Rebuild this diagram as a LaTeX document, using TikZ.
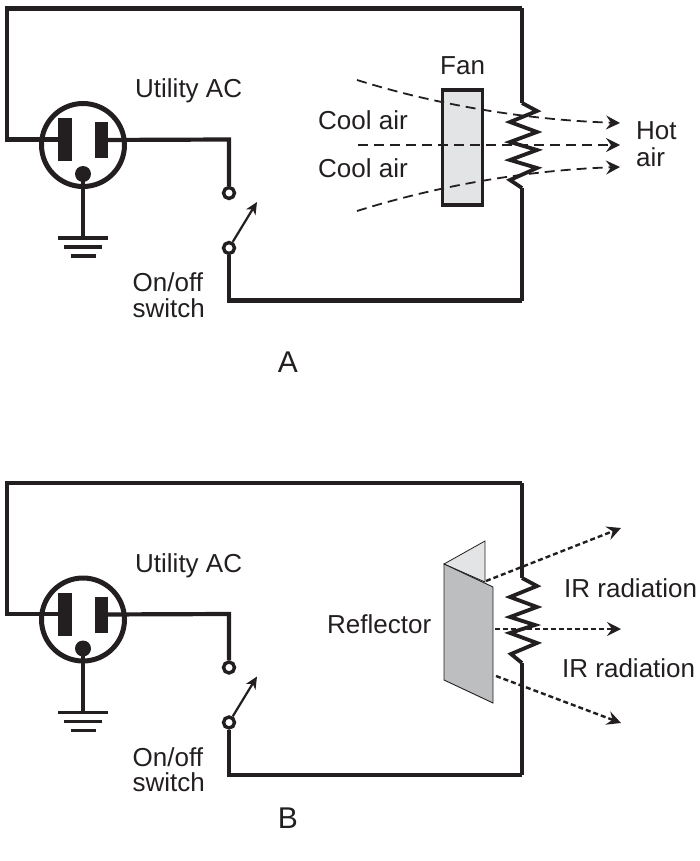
\documentclass[tikz,border=0pt]{standalone}
\usepackage{fontspec}
\setmainfont{Liberation Sans}
\usetikzlibrary{arrows.meta}
\definecolor{inkblack}{HTML}{231F20}
\definecolor{fanfill}{HTML}{E3E4E6}
\definecolor{panelfill}{HTML}{BCBEC0}
\tikzset{
  wire/.style={draw=inkblack, line width=4.2pt, line join=miter},
  coil/.style={draw=inkblack, line width=3.8pt, line join=miter},
  groundbar/.style={draw=inkblack, line width=3.8pt},
  prong/.style={fill=inkblack, draw=none, inner sep=0pt},
  socket/.style={circle, draw=inkblack, line width=5pt, inner sep=0pt, minimum size=83pt},
  terminal/.style={circle, draw=inkblack, fill=white, line width=3.4pt, inner sep=0pt, minimum size=11pt},
  lever/.style={draw=inkblack, line width=2.2pt, -{Stealth[length=12pt,width=11pt,inset=3.5pt]}},
  airflow/.style={draw=inkblack, line width=1.8pt, dash pattern=on 10pt off 6pt, -{Stealth[length=14pt,width=14pt,inset=5pt]}},
  irray/.style={draw=inkblack, line width=2.4pt, dash pattern=on 5pt off 3pt, -{Stealth[length=14pt,width=14pt,inset=5pt]}},
  lbl/.style={anchor=base west, inner sep=0pt, text=inkblack, font=\fontsize{26}{30}\selectfont},
  capt/.style={anchor=base, inner sep=0pt, text=inkblack, font=\fontsize{30}{32}\selectfont}
}

\begin{document}
\begin{tikzpicture}[x=1pt,y=-1pt]
\useasboundingbox (0,0) rectangle (699,861);

% the mains side is the same in both panels
\foreach \p/\dy in {1/0, 2/474.5}{
\begin{scope}[yshift=-\dy]
\node [socket] (socket\p) at (83,145) {};
\node [prong, minimum width=14pt, minimum height=43pt] (hot\p) at (65,139.5) {};
\node [prong, minimum width=13.5pt, minimum height=36pt] (neutral\p) at (101.5,140) {};
\node [prong, circle, minimum size=16pt] (earth\p) at (83,174) {};
\coordinate (g1\p) at (83,238);
\coordinate (g1l\p) at (58,238); \coordinate (g1r\p) at (108,238);
\coordinate (g2l\p) at (64,247); \coordinate (g2r\p) at (102,247);
\coordinate (g3l\p) at (71,256); \coordinate (g3r\p) at (96,256);
\coordinate (tl\p) at (7,139.5); \coordinate (tt\p) at (7,8.5);
\coordinate (tr\p) at (522,8.5);
\coordinate (sw\p) at (229,139.5);
\coordinate (bl\p) at (229,300.5); \coordinate (br\p) at (522,300.5);
\coordinate (tip\p) at (257,202);
\node [terminal] (upper\p) at (229,193) {};
\node [terminal] (lower\p) at (229,248) {};

\draw [wire] (hot\p.center) -- (tl\p) -- (tt\p) -- (tr\p);
\draw [wire] (neutral\p.center) -- (sw\p) -- (upper\p.north);
\draw [wire] (lower\p.south) -- (bl\p) -- (br\p);
\draw [wire] (earth\p.center) -- (g1\p);
\draw [groundbar] (g1l\p) -- (g1r\p);
\draw [groundbar] (g2l\p) -- (g2r\p);
\draw [groundbar] (g3l\p) -- (g3r\p);
\draw [lever] (lower\p) -- (tip\p);

\node [lbl] (mains\p) at (135,97.5) {Utility AC};
\node [lbl] (onoff\p) at (132.5,291.5) {On/off};
\node [lbl] (switch\p) at (132.5,317) {switch};
\end{scope}
}

% panel A
\coordinate (rt1) at (522,103); \coordinate (rb1) at (522,188);
\draw [wire] (tr1) -- (rt1);
\draw [wire] (rb1) -- (br1);
\node [draw=inkblack, fill=fanfill, line width=3.6pt, inner sep=0pt, minimum width=40pt, minimum height=115pt] (fan) at (462.5,147.5) {};
\draw [coil] (rt1) -- ++(15,8) -- ++(-27,11) -- ++(27,10) -- ++(-27,10) -- ++(27,8) -- ++(-27,10) -- ++(27,8) -- ++(-27,12) -- (rb1);

\coordinate (a1s) at (357,80); \coordinate (a1e) at (620,123);
\coordinate (a2s) at (358,145); \coordinate (a2e) at (620,145);
\coordinate (a3s) at (357,211); \coordinate (a3e) at (620,167);
\draw [airflow] (a1s) .. controls (440,106) and (530,120) .. (a1e);
\draw [airflow] (a2s) -- (a2e);
\draw [airflow] (a3s) .. controls (440,185) and (530,170) .. (a3e);

\node [lbl] (fanlbl) at (440,75) {Fan};
\node [lbl] (cool1) at (318,130) {Cool air};
\node [lbl] (cool2) at (318,178) {Cool air};
\node [lbl] (hot) at (636,140) {Hot};
\node [lbl] (air) at (636,167) {air};
\node [capt] (capA) at (288,372) {A};

% panel B
\coordinate (rt2) at (522,578); \coordinate (rb2) at (522,663);
\draw [wire] (tr2) -- (rt2);
\draw [wire] (rb2) -- (br2);
\coordinate (fold) at (444,564); \coordinate (fbt) at (493,587);
\coordinate (fbb) at (493,703); \coordinate (foldb) at (444,680);
\coordinate (bt) at (485,541); \coordinate (bb) at (485,582);
\draw [draw=inkblack, line width=0.8pt, fill=fanfill] (fold) -- (bt) -- (bb) -- cycle;
\draw [draw=inkblack, line width=0.9pt, fill=panelfill] (fold) -- (fbt) -- (fbb) -- (foldb) -- cycle;
\draw [coil] (rt2) -- ++(15,8) -- ++(-27,11) -- ++(27,10) -- ++(-27,10) -- ++(25,8) -- ++(-25,8) -- ++(27,10) -- ++(-26,11) -- (rb2);

\coordinate (i1s) at (486,581); \coordinate (i1e) at (621,528);
\coordinate (i2s) at (495,629); \coordinate (i2e) at (621,629);
\coordinate (i3s) at (496,676); \coordinate (i3e) at (621,723);
\draw [irray] (i1s) -- (i1e);
\draw [irray] (i2s) -- (i2e);
\draw [irray] (i3s) -- (i3e);

\node [lbl] (reflector) at (327,633) {Reflector};
\node [lbl] (ir1) at (564,597) {IR radiation};
\node [lbl] (ir2) at (562,677) {IR radiation};
\node [capt] (capB) at (288,828) {B};
\end{tikzpicture}
\end{document}
